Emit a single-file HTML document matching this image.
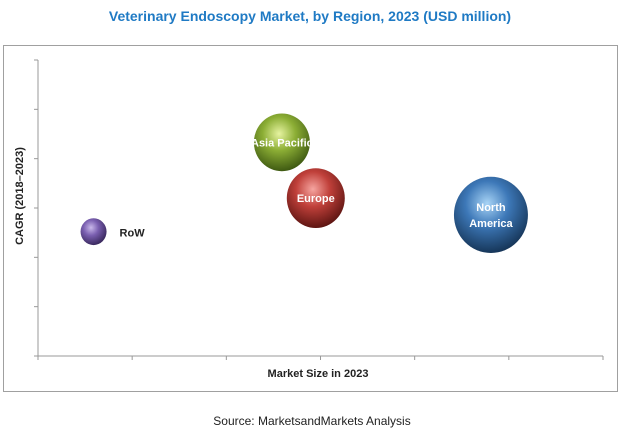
<!DOCTYPE html>
<html><head><meta charset="utf-8"><style>
body{margin:0;background:#fff;width:621px;height:435px;overflow:hidden;font-family:"Liberation Sans",sans-serif}
</style></head><body>
<svg width="621" height="435">
<defs>
<radialGradient id="gP" cx="40%" cy="35%" r="65%"><stop offset="0" stop-color="#c9b8ea"/><stop offset="0.45" stop-color="#7a5fb0"/><stop offset="1" stop-color="#3b2a60"/></radialGradient>
<radialGradient id="gG" cx="45%" cy="35%" r="65%"><stop offset="0" stop-color="#e6f3a0"/><stop offset="0.45" stop-color="#8cae35"/><stop offset="1" stop-color="#3f5a12"/></radialGradient>
<radialGradient id="gR" cx="45%" cy="35%" r="65%"><stop offset="0" stop-color="#f6a5a0"/><stop offset="0.45" stop-color="#c0403a"/><stop offset="1" stop-color="#5e1512"/></radialGradient>
<radialGradient id="gB" cx="45%" cy="35%" r="65%"><stop offset="0" stop-color="#a8d4f6"/><stop offset="0.45" stop-color="#3d78b8"/><stop offset="1" stop-color="#163659"/></radialGradient>
</defs>
<text x="310" y="21" text-anchor="middle" font-size="14" font-weight="bold" fill="#1f7ac4">Veterinary Endoscopy Market, by Region, 2023 (USD million)</text>
<rect x="3.5" y="45.5" width="614" height="346" fill="none" stroke="#a0a0a0"/>
<g id="axes"></g>
<g id="bubbles"></g>
<text x="318" y="377" text-anchor="middle" font-size="11" font-weight="bold" fill="#222">Market Size in 2023</text>
<text transform="translate(23,196) rotate(-90)" text-anchor="middle" font-size="11" font-weight="bold" fill="#222">CAGR (2018–2023)</text>
<text x="312" y="425" text-anchor="middle" font-size="12" fill="#222">Source: MarketsandMarkets Analysis</text>
</svg>
<script>
const regions=["RoW","Asia Pacific","Europe","North America"];
const marketSize=[0.59,2.59,2.95,4.81];
const cagr=[2.52,4.33,3.2,2.86];
const bubbleSize=[13,28,29,37];
const xTicks=[0,1,2,3,4,5,6];
const yTicks=[0,1,2,3,4,5,6];
const NS="http://www.w3.org/2000/svg";
const x0=38,x1=603,y0=356,y1=60;
const xs=v=>x0+(x1-x0)*v/6, ys=v=>y0-(y0-y1)*v/6;
const ax=document.getElementById('axes');
function mk(t,a,p){const e=document.createElementNS(NS,t);for(const k in a)e.setAttribute(k,a[k]);p.appendChild(e);return e;}
let l=mk('line',{x1:x0,y1:y1,x2:x0,y2:y0,stroke:'#999'},ax);


l=mk('line',{x1:x0,y1:y0,x2:x1,y2:y0,stroke:'#999'},ax);


yTicks.forEach(v=>{const t=mk('line',{x1:x0-4,y1:ys(v),x2:x0,y2:ys(v),stroke:'#999'},ax);

});
xTicks.forEach(v=>{const t=mk('line',{x1:xs(v),y1:y0,x2:xs(v),y2:y0+4,stroke:'#999'},ax);

});
const fills=['url(#gP)','url(#gG)','url(#gR)','url(#gB)'];
const bg=document.getElementById('bubbles');
regions.forEach((r,i)=>{
 const cx=xs(marketSize[i]),cy=ys(cagr[i]),rr=bubbleSize[i];
 const c=mk('ellipse',{cx:cx,cy:cy,rx:rr,ry:rr*1.03,fill:fills[i]},bg);
 
 
 if(i===0){const t=mk('text',{x:cx+26,y:cy+5,'font-size':11,'font-weight':'bold',fill:'#222'},bg);t.textContent=r;
  
  }
 else{const lines=i===3?['North','America']:[r];
  lines.forEach((s,j)=>{const t=mk('text',{x:cx,y:cy+4+(j-(lines.length-1)/2)*16,'text-anchor':'middle','font-size':11,'font-weight':'bold',fill:'#fff'},bg);t.textContent=s;
  
  });}
});
</script>
</body></html>
